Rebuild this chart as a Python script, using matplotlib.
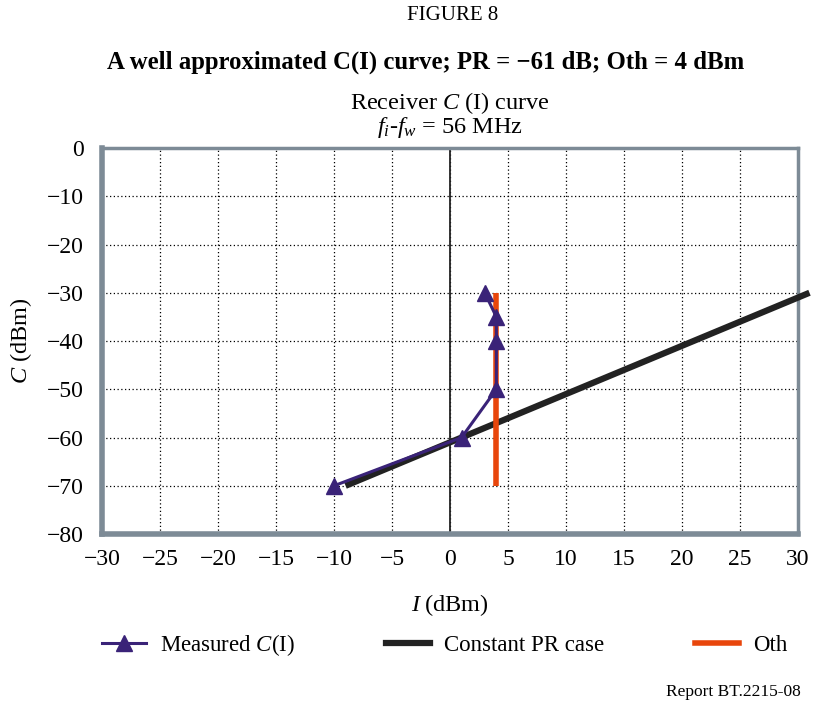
import matplotlib.pyplot as plt
from matplotlib.lines import Line2D

plt.rcParams['font.family'] = ['Liberation Serif', 'DejaVu Serif']
plt.rcParams['mathtext.fontset'] = 'custom'
plt.rcParams['mathtext.rm'] = 'Liberation Serif'
plt.rcParams['mathtext.it'] = 'Liberation Serif:italic'

# measured C(I) points
meas_I = [-10, 1, 4, 4, 4, 3]
meas_C = [-70, -60, -50, -40, -35, -30]

# constant PR case (PR = -61 dB)
pr_I = [-9, 31]
pr_C = [-70, -30]

# Oth = 4 dBm
oth_I = [4, 4]
oth_C = [-70, -30]

xticks = list(range(-30, 31, 5))
yticks = list(range(-80, 1, 10))

fig = plt.figure(figsize=(8.15, 7.15), dpi=100)
ax = fig.add_axes([0.1252, 0.2531, 0.8538, 0.5399])

ax.set_xlim(-30, 30)
ax.set_ylim(-80, 0)
ax.set_xticks(xticks)
ax.set_yticks(yticks)
ax.grid(True, color='black', linestyle=(0, (1, 2)), linewidth=0.9)
ax.tick_params(labelsize=17, length=0)
ax.tick_params(axis='x', pad=11)
ax.tick_params(axis='y', pad=13)
ax.axvline(0, color='#222222', lw=1.3, zorder=2)

for s in ['left', 'bottom']:
    ax.spines[s].set_color('#7d8b96')
    ax.spines[s].set_linewidth(4)
for s in ['top', 'right']:
    ax.spines[s].set_color('#7d8b96')
    ax.spines[s].set_linewidth(2.5)

ax.plot(pr_I, pr_C, color='#222222', lw=4.5, solid_capstyle='butt', clip_on=False, zorder=3)
ax.plot(oth_I, oth_C, color='#e8460c', lw=4, solid_capstyle='butt', zorder=3)
ax.plot(meas_I, meas_C, color='#3a2378', lw=2.2, marker='^', markersize=11, zorder=4)

ax.set_xlabel('$I$\u2009(dBm)', fontsize=17.5)
ax.set_ylabel('$C$ (dBm)', fontsize=17.5)
ax.xaxis.set_label_coords(0.5, -0.150)
ax.yaxis.set_label_coords(-0.098, 0.5)

fig.text(0.555, 0.978, 'FIGURE 8', ha='center', va='center', fontsize=15)
fig.text(0.522, 0.913, 'A well approximated C(I) curve; PR = \u221261 dB; Oth = 4 dBm',
         ha='center', va='center', fontsize=17.8, fontweight='bold')
fig.text(0.552, 0.856, 'Receiver $C$ (I) curve', ha='center', va='center', fontsize=17.5)
fig.text(0.552, 0.822, '$f_i$-$f_w$ = 56 MHz', ha='center', va='center', fontsize=17.5)
fig.text(0.982, 0.032, 'Report BT.2215-08', ha='right', va='center', fontsize=12.5)

handles = [
    Line2D([], [], color='#3a2378', lw=2.2, marker='^', markersize=11),
    Line2D([], [], color='#222222', lw=4.5),
    Line2D([], [], color='#e8460c', lw=4),
]
labels = ['Measured $C$(I)', 'Constant PR case', 'Oth']
fig.legend(handles, labels, loc='center', bbox_to_anchor=(0.546, 0.098), ncol=3,
           frameon=False, fontsize=16.5, handlelength=1.9, handletextpad=0.65,
           columnspacing=3.95)

plt.savefig('out.png', dpi=100)
